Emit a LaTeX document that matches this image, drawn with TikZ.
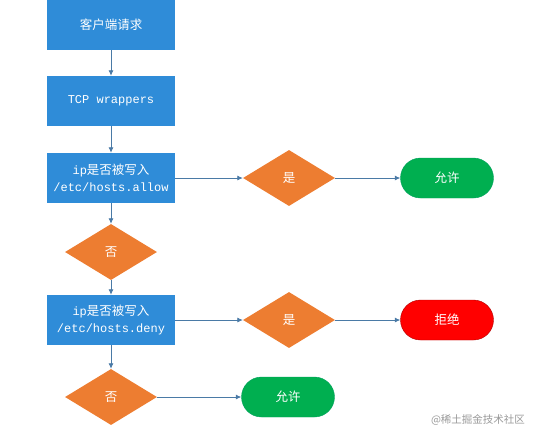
\documentclass[tikz,border=0pt]{standalone}
\usepackage{fontspec}
\setmainfont{Liberation Mono}
\newfontfamily\cjk{Noto Sans CJK SC}
\newcommand\zh[1]{{\cjk\fontsize{12.5}{17}\selectfont #1}}
\usetikzlibrary{graphs,shapes.geometric,arrows.meta}
\definecolor{boxblue}{HTML}{2F8CD8}
\definecolor{choiceorange}{HTML}{ED7D31}
\definecolor{okgreen}{HTML}{00AF50}
\definecolor{nored}{HTML}{FF0000}
\definecolor{flowline}{HTML}{4A7AA6}

\begin{document}
\begin{tikzpicture}[x=1pt,y=-1pt,
    >={Latex[length=5.5pt,width=5pt]},
    stepbox/.style={rectangle, fill=boxblue, minimum width=128pt, minimum height=50pt, align=center},
    choice/.style={diamond, fill=choiceorange, minimum width=92pt, minimum height=56pt, inner sep=0pt},
    endbox/.style={rectangle, rounded corners=20pt, minimum width=93pt, minimum height=40pt},
    endok/.style={endbox, fill=okgreen, draw=okgreen!70!teal},
    endno/.style={endbox, fill=nored, draw=nored!70!black}]
\useasboundingbox (0,0) rectangle (543,440);
\graph [
    nodes={
        text=white,
        font=\fontsize{12}{17}\selectfont  % mono for latin, cjk via \zh
    },
    edges={draw=flowline, line width=0.8pt},
    no placement
]
{
    req[as={\zh{客户端请求}}, stepbox, at={(111,25)}]
      -> tcp[as={TCP wrappers}, stepbox, at={(111,101)}]
      -> allowq[as={ip\zh{是否被写入}\\/etc/hosts.allow}, stepbox, at={(111,178)}]
      -> {
        yes1[as={\zh{是}}, choice, at={(289,178)}] -> pass1[as={\zh{允许}}, endok, at={(447,178)}],
        no1[as={\zh{否}}, choice, at={(111,252)}]
          -> denyq[as={ip\zh{是否被写入}\\/etc/hosts.deny}, stepbox, at={(111,320)}]
      },
    % second check against hosts.deny
    denyq -> {
        yes2[as={\zh{是}}, choice, at={(289,320)}] -> block[as={\zh{拒绝}}, endno, at={(447,320)}],
        no2[as={\zh{否}}, choice, at={(111,397)}] -> pass2[as={\zh{允许}}, endok, at={(288,397)}]
    }
};
\node (mark) at (478,420) {\cjk\fontsize{10.5}{12}\selectfont\color{black!40}@稀土掘金技术社区};
\end{tikzpicture}
\end{document}
